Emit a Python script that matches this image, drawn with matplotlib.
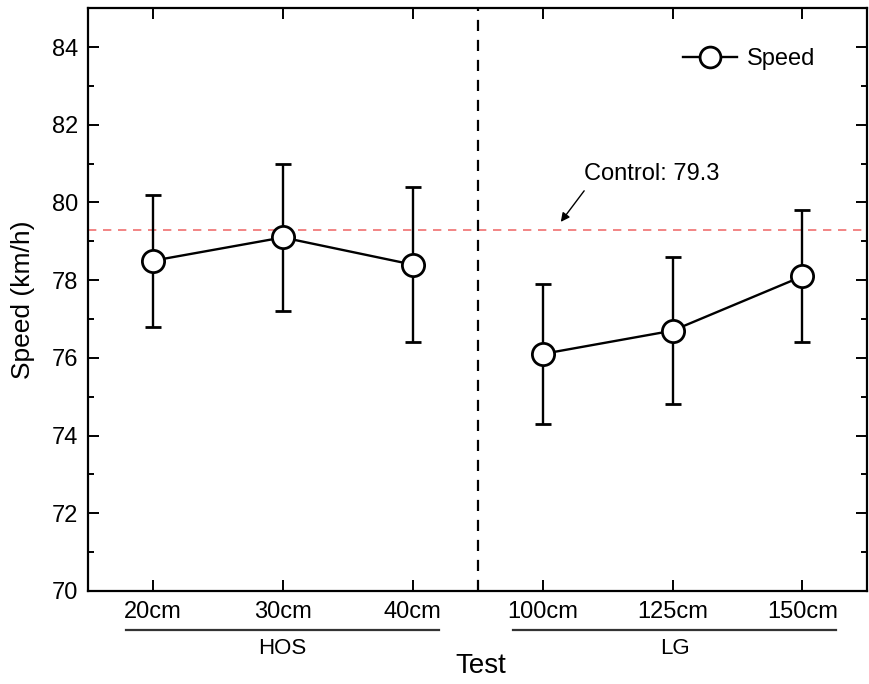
import matplotlib.pyplot as plt
from matplotlib.ticker import MultipleLocator
from matplotlib.lines import Line2D

plt.rcParams['font.family'] = ['Liberation Sans', 'DejaVu Sans']

labels = ["20cm", "30cm", "40cm", "100cm", "125cm", "150cm"]
groups = ["HOS", "LG"]
speed = [78.5, 79.1, 78.4, 76.1, 76.7, 78.1]
err = [1.7, 1.9, 2.0, 1.8, 1.9, 1.7]
control = 79.3

fig = plt.figure(figsize=(8.7, 6.84), dpi=100)
ax = fig.add_axes([0.101, 0.136, 0.896, 0.852])

x = list(range(len(labels)))
for sl in (slice(0, 3), slice(3, 6)):
    ax.errorbar(x[sl], speed[sl], yerr=err[sl], color="black", lw=1.7,
                capsize=6, capthick=1.7, elinewidth=1.7, zorder=2,
                marker="o", ms=16, mfc="white", mec="black", mew=2.0)

ax.axhline(control, color="#f07070", ls=(0, (5, 4)), lw=1.2, zorder=1)
ax.axvline(2.5, color="black", ls=(0, (5, 4)), lw=1.6, zorder=1)

ax.text(3.32, 80.45, "Control: 79.3", fontsize=17, ha="left", va="bottom")
ax.annotate("", xy=(3.14, 79.5), xytext=(3.32, 80.3),
            arrowprops=dict(arrowstyle="-|>", color="black", lw=1.0,
                            mutation_scale=13, shrinkA=0, shrinkB=0))

ax.set_xlim(-0.5, 5.5)
ax.set_ylim(70, 85)
ax.set_xticks(x)
ax.set_xticklabels(labels, fontsize=17)
ax.set_yticks(range(70, 85, 2))
ax.yaxis.set_minor_locator(MultipleLocator(1))
ax.tick_params(which="both", direction="in", top=True, right=True, width=1.4)
ax.tick_params(which="major", length=8, labelsize=17, pad=7)
ax.tick_params(which="minor", length=4)
for s in ax.spines.values():
    s.set_linewidth(1.6)

ax.set_ylabel("Speed (km/h)", fontsize=19, labelpad=12)

# group underlines and names
for gx0, gx1, name in ((-0.21, 2.2, groups[0]), (2.77, 5.26, groups[1])):
    ax.add_line(Line2D([gx0, gx1], [-0.067, -0.067], transform=ax.get_xaxis_transform(),
                       color="#333333", lw=1.6, clip_on=False))
    ax.text((gx0 + gx1) / 2, -0.099, name, transform=ax.get_xaxis_transform(),
            ha="center", va="center", fontsize=16)
fig.text(0.553, 0.026, "Test", ha="center", va="center", fontsize=20)

handle = Line2D([], [], color="black", lw=1.7, marker="o", ms=15,
                mfc="white", mec="black", mew=2.0)
ax.legend([handle], ["Speed"], loc="center right", bbox_to_anchor=(0.96, 0.912),
          frameon=False, fontsize=17, handlelength=2.3, handletextpad=0.4)

fig.savefig("out.png", dpi=100)
